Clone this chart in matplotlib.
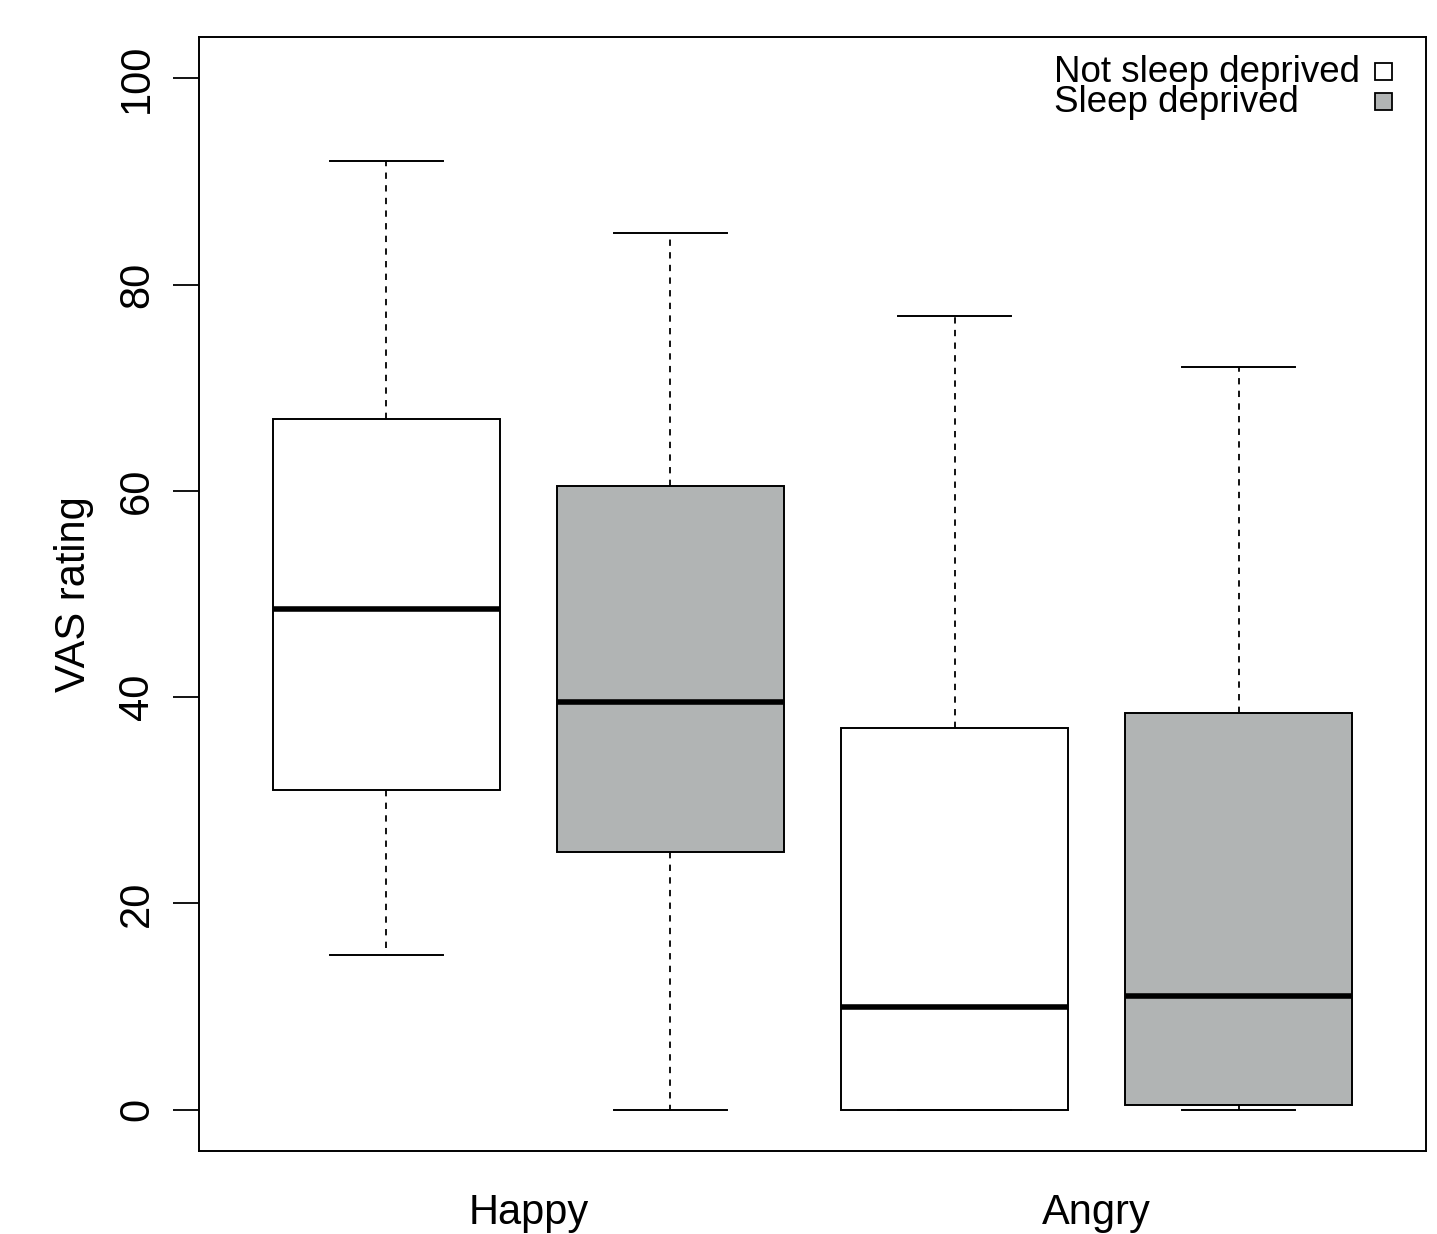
import matplotlib
matplotlib.use("Agg")
import matplotlib.pyplot as plt
from matplotlib.patches import Rectangle

plt.rcParams['font.family'] = ['Liberation Sans', 'DejaVu Sans']

emotions = ["Happy", "Angry"]
groups = ["Not sleep deprived", "Sleep deprived"]
colors = ["#FFFFFF", "#B1B4B4"]
# per box: whisker low, Q1, median, Q3, whisker high  (order: Happy-Not, Happy-Dep, Angry-Not, Angry-Dep)
whislo = [15, 0, 0, 0]
q1 = [31, 25, 0, 0.5]
med = [48.5, 39.5, 10, 11]
q3 = [67, 60.5, 37, 38.5]
whishi = [92, 85, 77, 72]
positions = [1, 2, 3, 4]
box_colors = [colors[0], colors[1], colors[0], colors[1]]

fig = plt.figure(figsize=(14.37, 12.34), dpi=100)
ax = fig.add_axes([199/1437, 1 - 1151/1234, (1426-199)/1437, (1151-37)/1234])

stats = []
for i in range(4):
    stats.append(dict(whislo=whislo[i], q1=q1[i], med=med[i], q3=q3[i], whishi=whishi[i], fliers=[]))

bp = ax.bxp(stats, positions=positions, widths=0.8, patch_artist=True, showfliers=False,
            boxprops=dict(linewidth=1.4, edgecolor='black'),
            medianprops=dict(linewidth=4.0, color='black', solid_capstyle='butt'),
            whiskerprops=dict(linewidth=1.3, color='black', linestyle=(0, (3.5, 3.5))),
            capprops=dict(linewidth=1.4, color='black'),
            capwidths=0.4)
for patch, c in zip(bp['boxes'], box_colors):
    patch.set_facecolor(c)

ax.set_xlim(0.34, 4.66)
ax.set_ylim(-4, 104)
ax.set_yticks([0, 20, 40, 60, 80, 100])
ax.set_yticklabels(["0", "20", "40", "60", "80", "100"], rotation=90, va='center', fontsize=30)
ax.tick_params(axis='y', length=19, width=1.3, pad=11)
ax.set_xticks([1.5, 3.5])
ax.set_xticklabels(emotions, fontsize=30)
ax.tick_params(axis='x', length=0, pad=30)
for s in ax.spines.values():
    s.set_linewidth(1.4)
ax.set_ylabel("VAS rating", fontsize=30, labelpad=17)

# legend drawn manually (R style)
tr = ax.transAxes
def ax_xy(px, py):
    return ((px - 199) / 1227, (1151 - py) / 1114)
for label, c, ty, by in [(groups[0], colors[0], 82, 63), (groups[1], colors[1], 112, 93)]:
    x, y = ax_xy(1054, ty)
    ax.text(x, y, label, transform=tr, fontsize=26.5, va='baseline', ha='left')
    bx, byy = ax_xy(1375, by + 17)
    ax.add_patch(Rectangle((bx, byy), 17/1227, 17/1114, transform=tr, facecolor=c,
                           edgecolor='black', linewidth=1.3, clip_on=False))

fig.savefig("out.png", dpi=100)
